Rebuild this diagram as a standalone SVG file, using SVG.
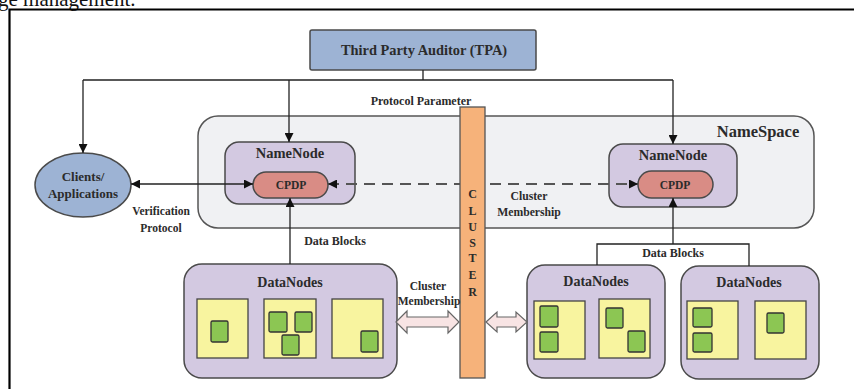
<svg xmlns="http://www.w3.org/2000/svg" width="854" height="389" viewBox="0 0 854 389">
  <style>
    .t { font-family: "Liberation Serif", "Times New Roman", serif; font-weight: bold; fill: #2b2b2b; text-anchor: middle; }
    .box { stroke: #4a4a4a; stroke-width: 1.5; }
    .tpa { fill: #9db3d4; }
    .ns { fill: #f0f1f3; stroke: #555; stroke-width: 1.5; }
    .nn { fill: #d3c9e1; }
    .cpdp { fill: #d98c85; }
    .yel { fill: #f8f49f; stroke: #444; stroke-width: 1.3; }
    .grn { fill: #8cc653; stroke: #333; stroke-width: 1.3; }
    .ln { fill: none; stroke: #222; stroke-width: 1.3; }
    .dash { fill: none; stroke: #555; stroke-width: 2; stroke-dasharray: 11 7; }
    .blk { fill: #f8e4e4; stroke: #666; stroke-width: 1.2; }
  </style>
  <defs>
    <marker id="ah" viewBox="0 0 10 10" refX="10" refY="5" markerWidth="10" markerHeight="9" markerUnits="userSpaceOnUse" orient="auto-start-reverse">
      <path d="M0,0 L10,5 L0,10 Z" fill="#111"/>
    </marker>
  </defs>

  <rect width="854" height="389" fill="#ffffff"/>

  <!-- caption line cut off above the frame -->
  <text x="-2" y="6" font-family="Liberation Serif, serif" font-size="21" fill="#111">ge management.</text>

  <!-- outer frame -->
  <path d="M9.5,392 L9.5,9.5 L858,9.5" fill="none" stroke="#000" stroke-width="2.2"/>

  <!-- namespace container -->
  <g id="namespace">
    <rect class="ns" x="198" y="116" width="616" height="112" rx="20"/>
    <text class="t" x="758" y="137" font-size="16.5">NameSpace</text>
  </g>

  <g id="tpa">
    <rect class="box tpa" x="310" y="30" width="226" height="40" rx="2"/>
    <text class="t" x="424" y="55" font-size="14.4">Third Party Auditor (TPA)</text>
  </g>

  <g id="clients">
    <ellipse class="box tpa" cx="83" cy="185" rx="48" ry="32"/>
    <text class="t" x="83" y="181" font-size="13">Clients/</text>
    <text class="t" x="83" y="198" font-size="13">Applications</text>
  </g>

  <g id="namenode-left">
    <rect class="box nn" x="225" y="142" width="130" height="62" rx="14"/>
    <text class="t" x="290" y="158" font-size="14.5">NameNode</text>
    <rect class="box cpdp" x="253" y="172" width="75" height="26" rx="13"/>
    <text class="t" x="291" y="189" font-size="11.5">CPDP</text>
  </g>

  <g id="namenode-right">
    <rect class="box nn" x="609" y="144" width="128" height="63" rx="14"/>
    <text class="t" x="673" y="160" font-size="14.5">NameNode</text>
    <rect class="box cpdp" x="638" y="171" width="75" height="27" rx="13.5"/>
    <text class="t" x="675" y="189" font-size="11.5">CPDP</text>
  </g>

  <g id="datanodes-left">
    <rect class="box nn" x="184" y="264" width="213" height="114" rx="18"/>
    <text class="t" x="290" y="287" font-size="14">DataNodes</text>
    <rect class="yel" x="197" y="299" width="51" height="59"/>
    <rect class="yel" x="264" y="299" width="52" height="59"/>
    <rect class="yel" x="332" y="299" width="51" height="59"/>
    <rect class="grn" x="211" y="321" width="17" height="21" rx="1.5"/>
    <rect class="grn" x="269" y="312" width="18" height="20" rx="1.5"/>
    <rect class="grn" x="295" y="312" width="17" height="20" rx="1.5"/>
    <rect class="grn" x="282" y="335" width="17" height="20" rx="1.5"/>
    <rect class="grn" x="361" y="331" width="17" height="21" rx="1.5"/>
  </g>

  <g id="datanodes-mid">
    <rect class="box nn" x="527" y="265" width="138" height="113" rx="18"/>
    <text class="t" x="596" y="286" font-size="14">DataNodes</text>
    <rect class="yel" x="534" y="301" width="51" height="58"/>
    <rect class="yel" x="599" y="299" width="51" height="59"/>
    <rect class="grn" x="540" y="306" width="18" height="21" rx="1.5"/>
    <rect class="grn" x="540" y="332" width="18" height="20" rx="1.5"/>
    <rect class="grn" x="606" y="308" width="17" height="20" rx="1.5"/>
    <rect class="grn" x="628" y="331" width="17" height="21" rx="1.5"/>
  </g>

  <g id="datanodes-right">
    <rect class="box nn" x="681" y="266" width="138" height="113" rx="18"/>
    <text class="t" x="749" y="287" font-size="14">DataNodes</text>
    <rect class="yel" x="687" y="301" width="51" height="58"/>
    <rect class="yel" x="755" y="301" width="51" height="58"/>
    <rect class="grn" x="693" y="308" width="19" height="19" rx="1.5"/>
    <rect class="grn" x="693" y="333" width="19" height="19" rx="1.5"/>
    <rect class="grn" x="767" y="313" width="17" height="20" rx="1.5"/>
  </g>

  <!-- connectors -->
  <g id="connectors">
    <!-- TPA distribution -->
    <path class="ln" d="M423,70 V80 M83,80 H673"/>
    <path class="ln" d="M83,80 V153" marker-end="url(#ah)"/>
    <path class="ln" d="M289,80 V142" marker-end="url(#ah)"/>
    <path class="ln" d="M673,80 V144" marker-end="url(#ah)"/>
    <!-- verification protocol -->
    <path class="ln" d="M131,184 H253" marker-start="url(#ah)" marker-end="url(#ah)"/>
    <!-- cluster membership between namenodes -->
    <path class="dash" d="M328,184 H638" marker-start="url(#ah)" marker-end="url(#ah)"/>
    <!-- data blocks, left -->
    <path class="ln" d="M290,264 V198" marker-end="url(#ah)"/>
    <!-- data blocks, right -->
    <path class="ln" d="M673,244 V198" marker-end="url(#ah)"/>
    <path class="ln" d="M597,265 V244 H749 V266"/>
  </g>

  <!-- cluster bar -->
  <g id="cluster">
    <rect x="460" y="107" width="25" height="271" fill="#f6b27a" stroke="#555" stroke-width="1.3"/>
    <g class="t" font-size="12">
      <text x="472.5" y="198">C</text>
      <text x="472.5" y="215">L</text>
      <text x="472.5" y="231">U</text>
      <text x="472.5" y="247">S</text>
      <text x="472.5" y="262">T</text>
      <text x="472.5" y="279">E</text>
      <text x="472.5" y="296">R</text>
    </g>
  </g>

  <!-- block double arrows to the cluster bar -->
  <g id="membership-arrows">
    <path class="blk" d="M396,322 L407,311 L407,317 L448,317 L448,311 L459,322 L448,333 L448,327 L407,327 L407,333 Z"/>
    <path class="blk" d="M486,322 L497,312 L497,317 L516,317 L516,312 L527,322 L516,332 L516,327 L497,327 L497,332 Z"/>
  </g>

  <!-- connector labels -->
  <g id="labels">
    <text class="t" x="421" y="105" font-size="12">Protocol Parameter</text>
    <text class="t" x="161" y="215" font-size="11.5">Verification</text>
    <text class="t" x="161" y="232" font-size="11.5">Protocol</text>
    <text class="t" x="335" y="245" font-size="12">Data Blocks</text>
    <text class="t" x="673" y="257" font-size="12">Data Blocks</text>
    <text class="t" x="529" y="200" font-size="11.7">Cluster</text>
    <text class="t" x="529" y="216" font-size="11.7">Membership</text>
    <text class="t" x="428" y="290" font-size="11.5">Cluster</text>
    <text class="t" x="429" y="305" font-size="11.5">Membership</text>
  </g>
</svg>
